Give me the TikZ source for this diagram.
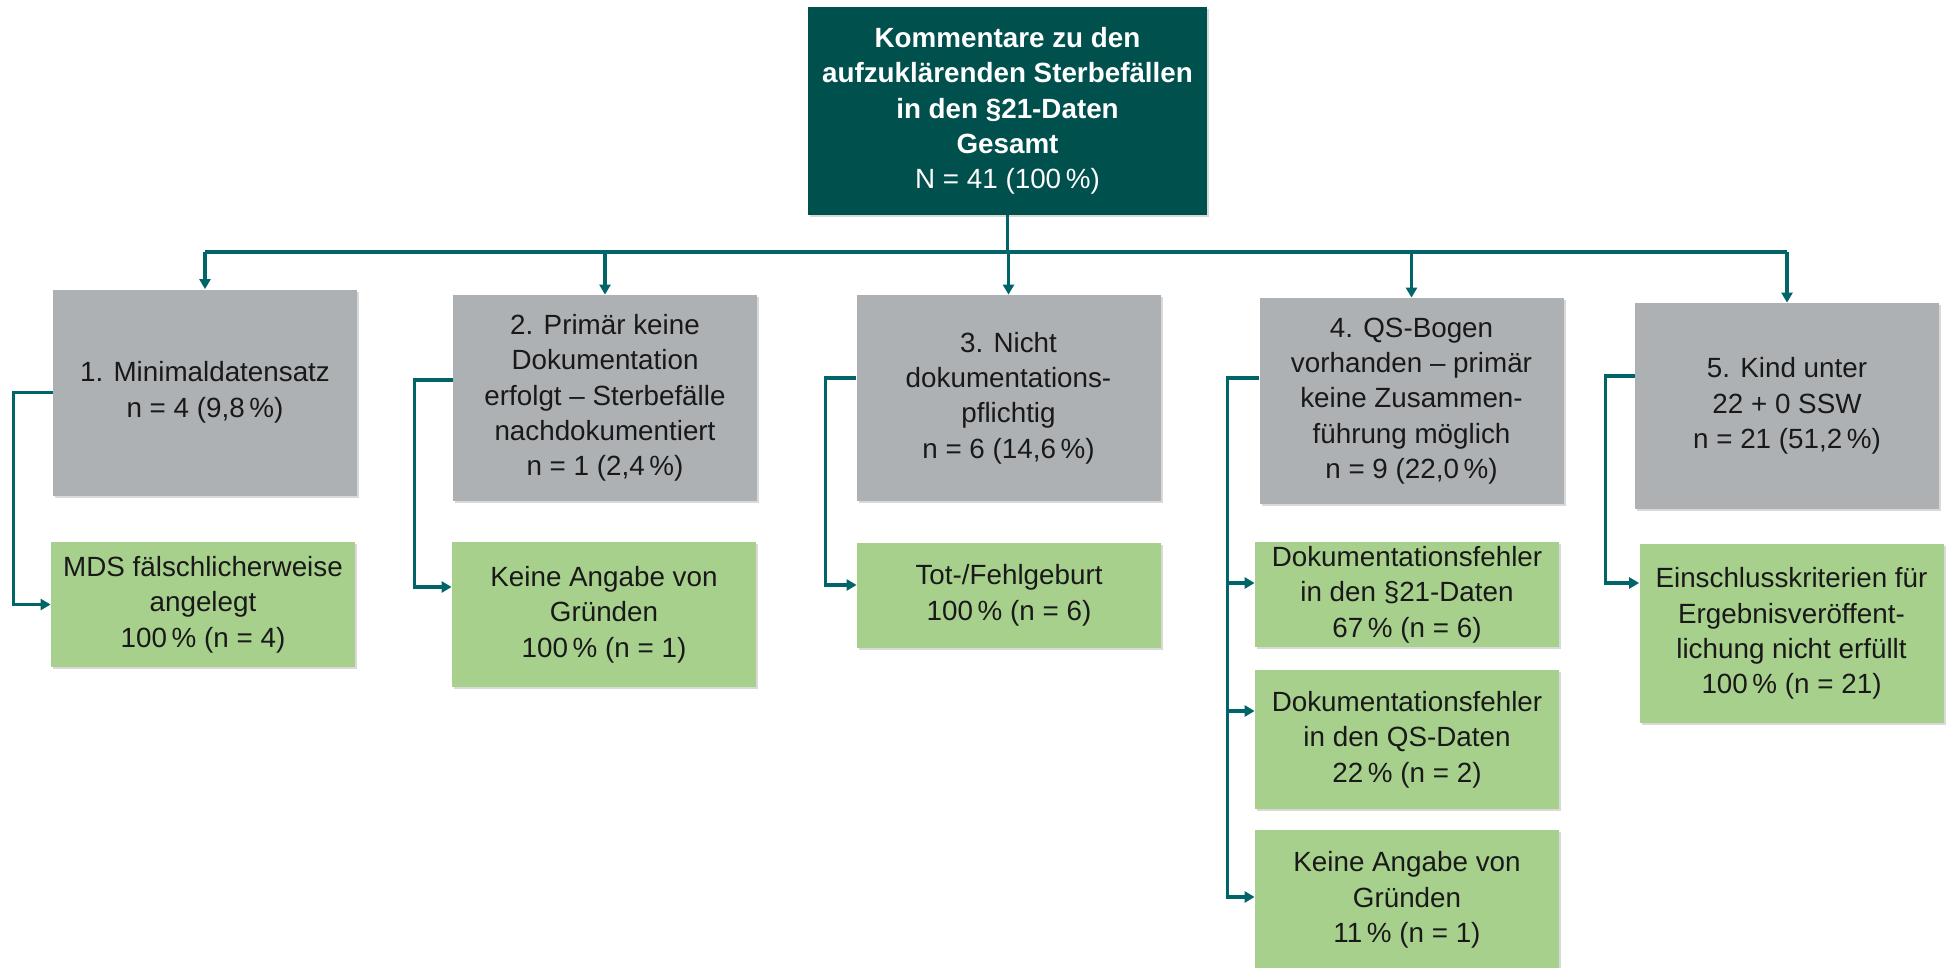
\documentclass[tikz,border=0pt]{standalone}
\usepackage{fontspec}
\setmainfont{Liberation Sans}
\usepackage{xcolor}
\usepackage{tikz}
\usetikzlibrary{arrows.meta,shadows}

\definecolor{qsteal}{RGB}{0,80,78}
\definecolor{qsline}{RGB}{0,100,104}
\definecolor{qsgray}{RGB}{174,177,180}
\definecolor{qsgreen}{RGB}{168,208,141}
\definecolor{qstext}{RGB}{25,25,25}

\begin{document}
\begin{tikzpicture}[
    x=0.5pt, y=-0.5pt,
    box/.style={rectangle, align=center, inner sep=2pt, font=\fontsize{13.9}{17.7}\selectfont, drop shadow={shadow xshift=1.2pt, shadow yshift=-1.2pt, opacity=0.3}},
    head/.style={box, fill=qsteal, text=white, minimum width=199.5pt, minimum height=104pt},
    cat/.style={box, fill=qsgray, text=qstext, minimum width=152pt, minimum height=103pt},
    reason/.style={box, fill=qsgreen, text=qstext, minimum width=152pt},
    trunk/.style={draw=qsline, line width=1.6pt},
    link/.style={trunk, -{Triangle[width=5.5pt,length=5pt]}}
]
    \useasboundingbox (0,0) rectangle (1948,968);

    % top
    \node[head] (top) at (1007.5,111) {\textbf{Kommentare zu den}\\\textbf{aufzuklärenden Sterbefällen}\\\textbf{in den §21-Daten}\\\textbf{Gesamt}\\N = 41 (100\,\%)};

    % categories
    \node[cat] (b1) at (205,392.5) {1. Minimaldatensatz\\n = 4 (9,8\,\%)};
    \node[cat] (b2) at (605,398) {2. Primär keine\\Dokumentation\\erfolgt – Sterbefälle\\nachdokumentiert\\n = 1 (2,4\,\%)};
    \node[cat] (b3) at (1008.5,398) {3. Nicht\\dokumentations-\\pflichtig\\n = 6 (14,6\,\%)};
    \node[cat] (b4) at (1411.5,401) {4. QS-Bogen\\vorhanden – primär\\keine Zusammen-\\führung möglich\\n = 9 (22,0\,\%)};
    \node[cat] (b5) at (1787,406) {5. Kind unter\\22 + 0 SSW\\n = 21 (51,2\,\%)};

    % reasons
    \node[reason, minimum height=62.5pt] (g1) at (203,604.5) {MDS fälschlicherweise\\angelegt\\100\,\% (n = 4)};
    \node[reason, minimum height=72.5pt] (g2) at (604,614.5) {Keine Angabe von\\Gründen\\100\,\% (n = 1)};
    \node[reason, minimum height=52.5pt] (g3) at (1009,595.5) {Tot-/Fehlgeburt\\100\,\% (n = 6)};
    \node[reason, minimum height=52.5pt] (g4a) at (1407,594.5) {Dokumentationsfehler\\in den §21-Daten\\67\,\% (n = 6)};
    \node[reason, minimum height=69.5pt] (g4b) at (1407,739.5) {Dokumentationsfehler\\in den QS-Daten\\22\,\% (n = 2)};
    \node[reason, minimum height=70pt] (g4c) at (1407,900) {Keine Angabe von\\Gründen\\11\,\% (n = 1)};
    \node[reason, minimum height=89.5pt] (g5) at (1791.5,633.5) {Einschlusskriterien für\\Ergebnisveröffent-\\lichung nicht erfüllt\\100\,\% (n = 21)};

    % tree
    \draw[trunk] (top.south) -- (top.south |- 0,252);
    \draw[trunk] (b1.north |- 0,252) -- (b5.north |- 0,252);
    \foreach \n in {b1,b2,b3,b4,b5}
        \draw[link] (\n.north |- 0,252) -- (\n.north);

    % side links
    \draw[link] (b1.west) -- ++(-39,0) |- (g1.west);
    \draw[link] (b2.west |- 0,380) -- ++(-38,0) |- (g2.west |- 0,587);
    \draw[link] (b3.west |- 0,378) -- ++(-31,0) |- (g3.west |- 0,585);
    \draw[link] (b4.west |- 0,378) -- ++(-32,0) |- (g4c.west |- 0,897);
    \coordinate (spine) at (1227,0);
    \foreach \g/\y in {g4a/583,g4b/711}
        \draw[link] (spine |- 0,\y) -- (\g.west |- 0,\y);
    \draw[link] (b5.west |- 0,376) -- ++(-29,0) |- (g5.west |- 0,583);
\end{tikzpicture}
\end{document}
